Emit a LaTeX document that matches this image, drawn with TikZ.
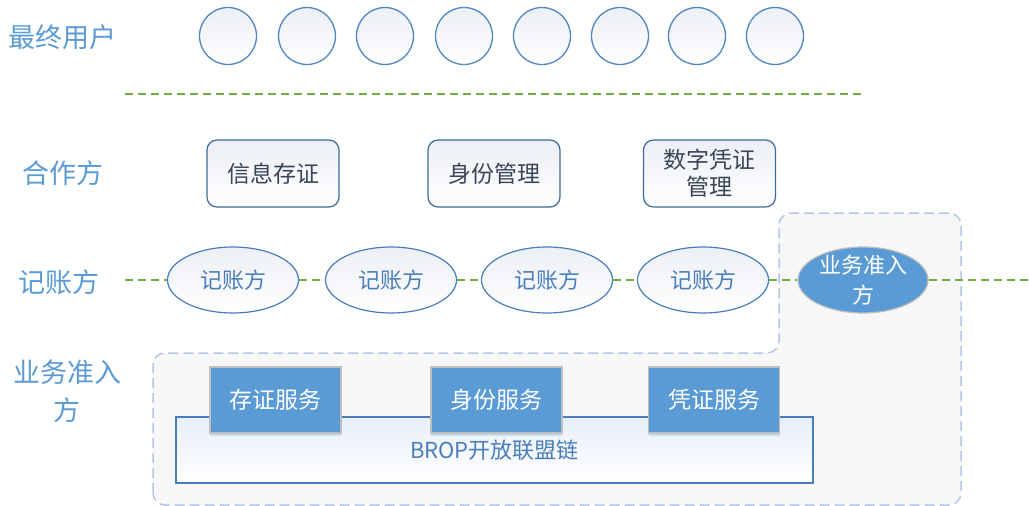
\documentclass[tikz,border=0pt]{standalone}
\usepackage{fontspec}
\setmainfont{Noto Sans CJK SC}
\usetikzlibrary{shapes.geometric,shadows}
\definecolor{lbl}{HTML}{5B9BD5}
\definecolor{cborder}{HTML}{4E86C2}
\definecolor{boxb}{HTML}{3D6A99}
\definecolor{boxt}{HTML}{3A4558}
\definecolor{ellt}{HTML}{4A7EBB}
\definecolor{grn}{HTML}{70AD47}
\definecolor{regfill}{HTML}{F7F7F7}
\definecolor{regline}{HTML}{B4C7E7}
\definecolor{svcb}{HTML}{BFBFBF}
\definecolor{topfill}{HTML}{ECEFF5}
\definecolor{bropfill}{HTML}{E8EFF9}
\newcommand\lblfont{\fontsize{27pt}{38pt}\selectfont}
\newcommand\boxfont{\fontsize{23pt}{27pt}\selectfont}
\newcommand\ellfont{\fontsize{22pt}{30pt}\selectfont}
\begin{document}
\begin{tikzpicture}[x=1pt,y=-1pt,
  rowlabel/.style={text=lbl,font=\lblfont,align=center,inner sep=0pt},
  user/.style={circle,draw=cborder,line width=1.3pt,minimum size=57pt,inner sep=0pt,top color=topfill,bottom color=white},
  partner/.style={rectangle,rounded corners=10pt,draw=boxb,line width=1.2pt,minimum width=132pt,minimum height=67pt,inner sep=0pt,top color=topfill,bottom color=white,text=boxt,font=\boxfont,align=center},
  ledger/.style={ellipse,draw=ellt,line width=1.2pt,minimum width=131pt,minimum height=66pt,inner sep=0pt,top color=topfill,bottom color=white,text=ellt,font=\ellfont},
  admit/.style={ellipse,draw=svcb,line width=1.2pt,minimum width=130pt,minimum height=66pt,inner sep=0pt,fill=lbl},
  svc/.style={rectangle,draw=svcb,line width=1.2pt,minimum width=131pt,minimum height=66pt,inner sep=0pt,fill=lbl,text=white,font=\boxfont,drop shadow={shadow xshift=0pt,shadow yshift=-3pt,fill=lbl,opacity=0.25}},
  chain/.style={rectangle,draw=ellt,line width=1.2pt,minimum width=637pt,minimum height=66pt,inner sep=0pt,top color=bropfill,bottom color=white,text=ellt,font=\ellfont},
  gline/.style={draw=grn,line width=2pt,dash pattern=on 8pt off 5pt},
  region/.style={draw=regline,fill=regfill,line width=1.5pt,dash pattern=on 10pt off 5pt,rounded corners=12pt}
]
\useasboundingbox (0,0) rectangle (1029,506);

% region background
\draw[region] (153,505) -- (153,353) -- (779,353) -- (779,213) -- (961,213) -- (961,505) -- cycle;

% row labels
\node[rowlabel] (L1) at (63,37) {最终用户};
\node[rowlabel] (L2) at (63,173) {合作方};
\node[rowlabel] (L3) at (59,282) {记账方};
\node[rowlabel] (L4) at (67,391) {业务准入\\方};

% end users
\foreach \i/\x in {1/228,2/307,3/385,4/464,5/542,6/620,7/697,8/775}
  \node[user] (u\i) at (\x,36) {};

% separator
\coordinate (g1) at (125,94);
\coordinate (g2) at (865,94);
\draw[gline] (g1) -- (g2);

% partners
\node[partner] (p1) at (273,173.5) {信息存证};
\node[partner] (p2) at (494,173.5) {身份管理};
\node[partner] (p3) at (709.5,173.5) {数字凭证\\管理};

% ledger row
\node[ledger] (e1) at (233,280) {记账方};
\node[ledger] (e2) at (391,280) {记账方};
\node[ledger] (e3) at (547,280) {记账方};
\node[ledger] (e4) at (703,280) {记账方};
\node[admit,label={[text=white,font=\ellfont,align=center]center:业务准入\\方}] (e5) at (863,280) {};
\coordinate (r0) at (125,280);
\coordinate (r6) at (1029,280);
\draw[gline] (r0) -- (e1);
\draw[gline] (e1) -- (e2);
\draw[gline] (e2) -- (e3);
\draw[gline] (e3) -- (e4);
\draw[gline] (e4) -- (e5);
\draw[gline] (e5) -- (r6);

% chain and services
\node[chain,label={[text=ellt,font=\ellfont]center:BROP开放联盟链}] (brop) at (494.5,450) {};
\node[svc] (s1) at (275.5,400) {存证服务};
\node[svc] (s2) at (496.5,400) {身份服务};
\node[svc] (s3) at (714,400) {凭证服务};
\end{tikzpicture}
\end{document}
